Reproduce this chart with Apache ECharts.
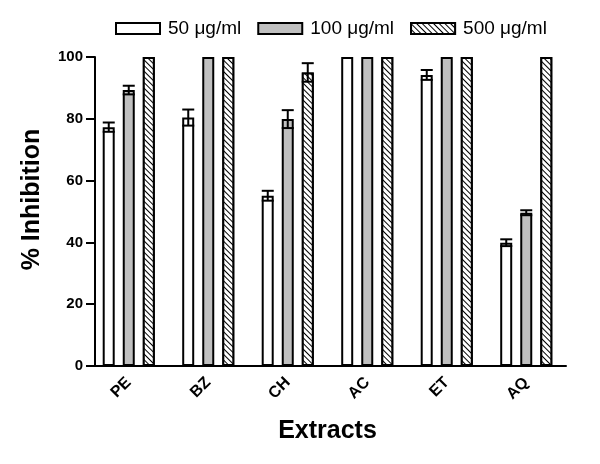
<!DOCTYPE html>
<html>
<head>
<meta charset="utf-8">
<script src="https://cdn.jsdelivr.net/npm/echarts@6/dist/echarts.min.js"></script>
<style>
    html, body { margin: 0; padding: 0; background: #fff; }
    #chart { width: 600px; height: 464px; }
</style>
</head>
<body>
<div id="chart"></div>
<script>
    // extracts and % inhibition at each concentration (mean, error)
    const categories = ['PE', 'BZ', 'CH', 'AC', 'ET', 'AQ'];
    const seriesNames = ['50 \u03bcg/ml', '100 \u03bcg/ml', '500 \u03bcg/ml'];
    const conc50 = [77.3, 80.4, 55.1, 100, 94.2, 39.9];
    const err50 = [1.5, 2.6, 1.6, 0, 1.6, 1.1];
    const conc100 = [89.3, 100, 79.9, 100, 100, 49.6];
    const err100 = [1.4, 0, 2.9, 0, 0, 0.8];
    const conc500 = [100, 100, 95.0, 100, 100, 100];
    const err500 = [0, 0, 3.0, 0, 0, 0];
    const yTicks = [0, 20, 40, 60, 80, 100];

    const font = 'Liberation Sans, Arial, Helvetica, sans-serif';
    const values = [conc50, conc100, conc500];
    const errors = [err50, err100, err500];
    const barWidth = 12;
    const barStep = 20; // centre to centre distance of bars in a group

    // error bar points: [category, mean, error, series index]
    let errData = [];
    for (let s = 0; s < 3; s++) {
        for (let i = 0; i < categories.length; i++) {
            if (errors[s][i] > 0) {
                errData.push([i, values[s][i], errors[s][i], s]);
            }
        }
    }

    const hatch = {
        symbol: 'rect',
        symbolSize: 1,
        color: '#000',
        backgroundColor: '#fff',
        dashArrayX: [[1, 0]],
        dashArrayY: [1, 2.6],
        rotation: Math.PI / 4
    };

    const fills = ['#ffffff', '#c0c0c0', '#ffffff'];

    let barSeries = values.map(function (data, s) {
        return {
            name: seriesNames[s],
            type: 'bar',
            data: data,
            barWidth: barWidth,
            barGap: '67%',
            itemStyle: {
                color: fills[s],
                borderColor: '#000',
                borderWidth: 2,
                decal: s === 2 ? hatch : null
            },
            z: 2
        };
    });

    let option = {
        animation: false,
        textStyle: { fontFamily: font },
        legend: {
            left: 110,
            top: 14,
            icon: 'rect',
            itemWidth: 44,
            itemHeight: 11,
            itemGap: 16,
            selectedMode: false,
            data: seriesNames,
            textStyle: { fontSize: 19, color: '#000', fontFamily: font, padding: [0, 0, 0, 3] }
        },
        grid: { left: 89, right: 34, top: 57, bottom: 98 },
        xAxis: {
            type: 'category',
            data: categories,
            name: 'Extracts',
            nameLocation: 'middle',
            nameGap: 53,
            nameTextStyle: { fontSize: 25, fontWeight: 'bold', color: '#000', fontFamily: font },
            axisLine: { lineStyle: { color: '#000', width: 2 } },
            axisTick: { show: false },
            axisLabel: { rotate: 45, fontSize: 16, fontWeight: 'bold', color: '#000', margin: 14, fontFamily: font }
        },
        yAxis: {
            type: 'value',
            min: yTicks[0],
            max: yTicks[yTicks.length - 1],
            interval: 20,
            offset: -6,
            name: '% Inhibition',
            nameLocation: 'middle',
            nameGap: 50,
            nameTextStyle: { fontSize: 25, fontWeight: 'bold', color: '#000', fontFamily: font, padding: [0, 0, 0, 24] },
            axisLine: { show: true, lineStyle: { color: '#000', width: 2 } },
            axisTick: { show: true, length: 9, lineStyle: { color: '#000', width: 2 } },
            axisLabel: { fontSize: 15, fontWeight: 'bold', color: '#000', margin: 12, fontFamily: font },
            splitLine: { show: false }
        },
        series: barSeries.concat([{
            type: 'custom',
            name: 'error',
            data: errData,
            encode: { x: 0, y: 1 },
            z: 5,
            renderItem: function (params, api) {
                let cat = api.value(0);
                let mean = api.value(1);
                let err = api.value(2);
                let off = (api.value(3) - 1) * barStep;
                let hi = api.coord([cat, mean + err]);
                let lo = api.coord([cat, mean - err]);
                let x = hi[0] + off;
                let half = 6;
                let style = { stroke: '#000', lineWidth: 2 };
                return {
                    type: 'group',
                    children: [
                        { type: 'line', shape: { x1: x, y1: hi[1], x2: x, y2: lo[1] }, style: style },
                        { type: 'line', shape: { x1: x - half, y1: hi[1], x2: x + half, y2: hi[1] }, style: style },
                        { type: 'line', shape: { x1: x - half, y1: lo[1], x2: x + half, y2: lo[1] }, style: style }
                    ]
                };
            }
        }])
    };

    let myChart = echarts.init(document.getElementById('chart'));
    myChart.setOption(option);
</script>
</body>
</html>
